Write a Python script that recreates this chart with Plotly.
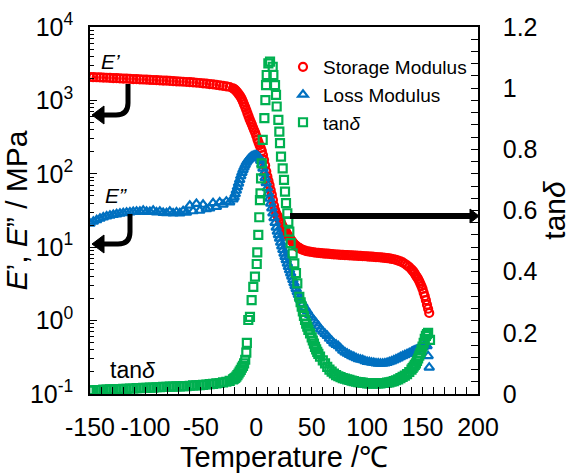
import plotly.graph_objects as go

# ---------------- data ----------------
T_MOD = [-150, -147, -144, -141, -138, -135, -132, -129, -126, -123, -120, -117, -114, -111, -108,
         -105, -102, -99, -96, -93, -90, -87, -84, -81, -78, -75, -72, -69, -66, -63, -60, -57,
         -54, -51, -48, -45, -42, -39, -36, -33, -30, -27, -24, -21,
         -20, -19, -18, -17, -16, -15, -14, -13, -12, -11, -10, -9, -8, -7, -6, -5, -4, -3, -2, -1,
         0, 1, 2, 3, 4, 5, 6, 7, 8, 9, 10, 11, 12, 13, 14, 15, 16, 17, 18, 19, 20, 21, 22, 23, 24,
         25, 26, 27, 28, 29, 30, 31, 32, 33, 34, 35, 36, 37, 38, 39, 40,
         42, 44, 46, 48, 50, 52, 54, 56, 58, 60, 62, 64, 66, 68, 70, 72, 74, 76, 78, 80, 82, 84, 86,
         88, 90, 92, 94, 96, 98, 100, 102, 104, 106, 108, 110, 112, 114, 116, 118, 120, 122, 124,
         126, 128, 130, 132, 134, 136, 138, 140,
         141, 142, 143, 144, 145, 146, 147, 148, 149, 150, 151, 152, 153, 154, 155, 156]

STORAGE = [2084, 2075, 2066, 2055, 2045, 2035, 2025, 2015, 2005, 1995, 1985, 1975, 1965, 1955, 1945,
           1935, 1925, 1915, 1905, 1895, 1885, 1875, 1865, 1855, 1845, 1830, 1820, 1808, 1795, 1782,
           1770, 1755, 1740, 1727, 1710, 1690, 1670, 1650, 1630, 1605, 1580, 1550, 1523, 1460,
           1430, 1390, 1340, 1290, 1230, 1170, 1110, 1040, 960, 880, 810, 740, 670, 610, 555, 510,
           470, 430, 395, 365,
           330, 295, 268, 245, 225, 205, 180, 155, 130, 108, 92, 80, 70, 60, 52, 44, 37, 32, 29, 27,
           25.5, 24, 22, 20.5, 19, 18, 17, 16, 15, 14.2, 13.5, 12.8, 12.2, 11.6, 11.1, 10.7, 10.4,
           10.1, 9.9, 9.7, 9.5,
           9.2, 9.0, 8.8, 8.7, 8.6, 8.5, 8.4, 8.35, 8.3, 8.25, 8.2, 8.15, 8.1, 8.05, 8.0, 7.95, 7.9,
           7.88, 7.85, 7.82, 7.8, 7.76, 7.72, 7.7, 7.66, 7.63, 7.6, 7.57, 7.53, 7.5, 7.46, 7.42, 7.38,
           7.34, 7.3, 7.26, 7.22, 7.17, 7.12, 7.05, 6.95, 6.85, 6.7, 6.55, 6.4, 6.2, 5.95, 5.65, 5.35,
           5.0,
           4.8, 4.6, 4.35, 4.1, 3.9, 3.7, 3.45, 3.2, 2.95, 2.7, 2.4, 2.15, 1.9, 1.65, 1.45, 1.27]

LOSS = [21, 22.3, 23.5, 24.5, 25.5, 26.3, 27, 27.7, 28.2, 28.7, 29.2, 29.6, 30, 30.3, 30.5,
        30.6, 31.5, 30.5, 30.3, 31.5, 29.8, 30.5, 29.4, 29.2, 30.5, 29.0, 30, 29.1, 31, 29.6,
        37, 31, 39, 31.5, 38, 33, 34, 40, 35.5, 41, 38, 42, 41, 45,
        48, 53, 59, 66, 74, 83, 93, 103, 113, 123, 133, 142, 150, 157, 163, 168, 172, 175, 177, 178,
        178, 175, 170, 162, 150, 134, 118, 102, 88, 75, 64, 54, 46, 39.5, 34, 29, 25, 21.5, 18.5,
        16.4, 14.7, 13.1, 11.6, 10.3, 9.2, 8.2, 7.4, 6.7, 6.0, 5.4, 4.9, 4.4, 4.0, 3.6, 3.25, 2.95,
        2.7, 2.45, 2.25, 2.05, 1.9,
        1.7, 1.5, 1.35, 1.2, 1.1, 1.0, 0.92, 0.84, 0.76, 0.71, 0.66, 0.62, 0.57, 0.53, 0.49, 0.47,
        0.45, 0.42, 0.39, 0.37, 0.355, 0.343, 0.33, 0.32, 0.31, 0.30, 0.295, 0.29, 0.282, 0.275,
        0.272, 0.269, 0.266, 0.263, 0.261, 0.26, 0.26, 0.262, 0.266, 0.272, 0.28, 0.288, 0.297,
        0.307, 0.318, 0.33, 0.34, 0.35, 0.36, 0.372,
        0.378, 0.385, 0.39, 0.397, 0.403, 0.41, 0.417, 0.424, 0.43, 0.437, 0.445, 0.453, 0.46,
        0.45, 0.33, 0.23]

T_TAN = [-150, -147, -144, -141, -138, -135, -132, -129, -126, -123, -120, -117, -114, -111, -108,
         -105, -102, -99, -96, -93, -90, -87, -84, -81, -78, -75, -72, -69, -66, -63, -60, -57,
         -54, -51, -48, -45, -42, -39, -36, -33, -30, -27, -24, -21,
         -20, -19, -18, -17, -16, -15, -14, -13, -12, -11, -10, -9,
         -8.5, -7.2, -5.7, -4.2, -2.7, -1.2, 0.4, 0.9, 1.8, 2.7, 3.3, 3.8, 4.3, 4.9, 5.8, 7.3, 8.2,
         8.8, 9.4, 10.9, 12.4, 14.8, 15.4, 16.9, 17.8, 18.4, 19.9, 20.8, 21.4, 22.3, 23.8, 25.0,
         25.9, 26.8, 28.0, 28.9, 29.8, 31.0, 32.8, 34.3, 35.8, 37.0, 38.8, 40.0, 41.0, 42.0, 43.0,
         44.0, 45.0, 46.0, 47.0, 48.5, 50.0, 51.0, 52.0, 53.0, 54.0, 55.0, 56.0, 57.5,
         60, 62, 64, 66, 68, 70, 72, 74, 76, 78, 80, 82, 84, 86, 88, 90, 92, 94, 96, 98, 100, 102,
         104, 106, 108, 110, 112, 114, 116, 118, 120, 122, 124, 126, 128, 130, 132, 134, 136, 138,
         140, 141, 142, 143, 144, 145, 146, 147, 148, 149, 150, 151, 152, 153, 154, 155, 156.7]

TAN_DELTA = [0.012, 0.012, 0.013, 0.013, 0.014, 0.014, 0.015, 0.015, 0.016, 0.016, 0.017, 0.017,
             0.018, 0.018, 0.019, 0.019, 0.020, 0.020, 0.021, 0.021, 0.022, 0.022, 0.023, 0.023,
             0.024, 0.024, 0.025, 0.025, 0.026, 0.026, 0.027, 0.028, 0.028, 0.029, 0.030, 0.031,
             0.032, 0.033, 0.035, 0.036, 0.038, 0.040, 0.043, 0.048,
             0.050, 0.053, 0.057, 0.062, 0.067, 0.073, 0.079, 0.086, 0.092, 0.100, 0.112, 0.135,
             0.167, 0.242, 0.252, 0.307, 0.35, 0.384, 0.425, 0.463, 0.52, 0.578, 0.634, 0.656,
             0.705, 0.754, 0.831, 0.902, 0.961, 1.01, 1.043, 1.081, 1.087, 1.07, 1.043, 1.01, 0.978,
             0.94, 0.896, 0.858, 0.82, 0.776, 0.738, 0.70, 0.662, 0.624, 0.591, 0.563, 0.531, 0.493,
             0.46, 0.427, 0.395, 0.362, 0.318, 0.30, 0.286, 0.27, 0.255, 0.242, 0.23, 0.22, 0.21,
             0.198, 0.185, 0.175, 0.165, 0.154, 0.146, 0.138, 0.131, 0.122,
             0.11, 0.10, 0.089, 0.080, 0.073, 0.067, 0.062, 0.058, 0.055, 0.052, 0.050, 0.048, 0.046,
             0.044, 0.042, 0.040, 0.039, 0.038, 0.037, 0.036, 0.035, 0.035, 0.035, 0.035, 0.035,
             0.035, 0.035, 0.036, 0.036, 0.037, 0.038, 0.040, 0.042, 0.045, 0.048, 0.052, 0.056,
             0.060, 0.065, 0.072, 0.080, 0.085, 0.09, 0.095, 0.10, 0.108, 0.116, 0.125, 0.134,
             0.144, 0.155, 0.167, 0.18, 0.19, 0.196, 0.2, 0.177]

X_TICKS = [-150, -100, -50, 0, 50, 100, 150, 200]
X_TICK_TEXT = ["-150", "-100", "-50", "0", "50", "100", "150", "200"]
Y_TICKS = [0.1, 1, 10, 100, 1000, 10000]
Y_TICK_TEXT = ["10<sup>-1</sup>", "10<sup>0</sup>", "10<sup>1</sup>", "10<sup>2</sup>",
               "10<sup>3</sup>", "10<sup>4</sup>"]
Y_MINOR = [m * 10 ** e for e in range(-1, 4) for m in range(2, 10)]
Y2_TICKS = [0, 0.2, 0.4, 0.6, 0.8, 1.0, 1.2]
Y2_TICK_TEXT = ["0", "0.2", "0.4", "0.6", "0.8", "1", "1.2"]

assert len(T_MOD) == len(STORAGE) == len(LOSS), (len(T_MOD), len(STORAGE), len(LOSS))
assert len(T_TAN) == len(TAN_DELTA), (len(T_TAN), len(TAN_DELTA))

RED = "#FF0000"
BLUE = "#0070C0"
GREEN = "#00B050"
FONT = "Liberation Sans, Arial, sans-serif"

W, H = 577, 475
L, R, TOP, B = 90, 478, 27, 394


def px(x):
    return (x - L) / (R - L)


def py(y):
    return (B - y) / (B - TOP)


fig = go.Figure()
fig.add_trace(go.Scatter(x=T_MOD, y=STORAGE, mode="markers", name="Storage Modulus",
                         marker=dict(symbol="circle-open", size=8, color=RED,
                                     line=dict(width=2.2, color=RED))))
fig.add_trace(go.Scatter(x=T_MOD, y=LOSS, mode="markers", name="Loss Modulus",
                         marker=dict(symbol="triangle-up-open", size=8.5, color=BLUE,
                                     line=dict(width=2.2, color=BLUE))))
fig.add_trace(go.Scatter(x=T_TAN, y=TAN_DELTA, mode="markers", name="tan<i>δ</i>", yaxis="y2",
                         marker=dict(symbol="square-open", size=8, color=GREEN,
                                     line=dict(width=2.2, color=GREEN))))

axis_common = dict(showgrid=False, zeroline=False, showline=True, linecolor="black", linewidth=1.5,
                   ticks="inside", ticklen=7, tickwidth=1.2, tickcolor="black", automargin=False,
                   tickangle=0, tickfont=dict(size=25, color="black", family=FONT))

fig.update_layout(
    width=W, height=H,
    margin=dict(l=L, r=W - R, t=TOP, b=H - B, autoexpand=False),
    paper_bgcolor="white", plot_bgcolor="white",
    font=dict(family=FONT, color="black"),
    xaxis=dict(range=[-150, 200], tickmode="array", tickvals=X_TICKS, ticktext=X_TICK_TEXT,
               mirror=True, ticklabelstandoff=10,
               minor=dict(dtick=10, ticks="inside", ticklen=7, tickcolor="black", tickwidth=1.2),
               title=dict(text="Temperature /℃", font=dict(size=29), standoff=6),
               **axis_common),
    yaxis=dict(type="log", range=[-1, 4], tickmode="array", tickvals=Y_TICKS, ticktext=Y_TICK_TEXT,
               ticklabelstandoff=10,
               minor=dict(tickmode="array", tickvals=Y_MINOR, ticks="inside", ticklen=4,
                          tickcolor="black", tickwidth=1),
               title=dict(text="<i>E</i>’, <i>E</i>” / MPa", font=dict(size=30), standoff=2),
               **axis_common),
    yaxis2=dict(overlaying="y", side="right", range=[0, 1.2], tickmode="array", tickvals=Y2_TICKS,
                ticktext=Y2_TICK_TEXT, ticklabelstandoff=18,
                minor=dict(dtick=0.04, ticks="inside", ticklen=7, tickcolor="black", tickwidth=1.2),
                title=dict(text="tan<i>δ</i>", font=dict(size=30), standoff=4),
                **axis_common),
    legend=dict(x=px(283), y=py(48), xanchor="left", yanchor="top", bgcolor="rgba(0,0,0,0)",
                font=dict(size=19, color="black"), tracegroupgap=0, itemwidth=30),
    showlegend=True,
)

shapes = []
# E' arrow
shapes.append(dict(type="path", xref="paper", yref="paper",
                   path=f"M {px(128)},{py(84)} L {px(128)},{py(103)} Q {px(128)},{py(115)} {px(116)},{py(115)} L {px(101)},{py(115)}",
                   line=dict(color="black", width=5)))
shapes.append(dict(type="path", xref="paper", yref="paper",
                   path=f"M {px(92)},{py(115)} L {px(104)},{py(106)} L {px(104)},{py(124)} Z",
                   fillcolor="black", line=dict(color="black", width=1)))
# E'' arrow
shapes.append(dict(type="path", xref="paper", yref="paper",
                   path=f"M {px(130)},{py(214)} L {px(130)},{py(232)} Q {px(130)},{py(244)} {px(118)},{py(244)} L {px(101)},{py(244)}",
                   line=dict(color="black", width=5)))
shapes.append(dict(type="path", xref="paper", yref="paper",
                   path=f"M {px(92)},{py(244)} L {px(104)},{py(235)} L {px(104)},{py(253)} Z",
                   fillcolor="black", line=dict(color="black", width=1)))
# tan delta arrow to the right axis
shapes.append(dict(type="line", xref="paper", yref="paper",
                   x0=px(290), y0=py(216), x1=px(472), y1=py(216),
                   line=dict(color="black", width=6)))
shapes.append(dict(type="path", xref="paper", yref="paper",
                   path=f"M {px(479)},{py(216)} L {px(470)},{py(209)} L {px(470)},{py(223)} Z",
                   fillcolor="black", line=dict(color="black", width=1)))
fig.update_layout(shapes=shapes)

ann_font = dict(size=21, color="black", family=FONT)
fig.add_annotation(x=px(110), y=py(62), xref="paper", yref="paper", text="<i>E’</i>",
                   xanchor="center", yanchor="middle", showarrow=False, font=ann_font)
fig.add_annotation(x=px(116), y=py(195), xref="paper", yref="paper", text="<i>E”</i>",
                   xanchor="center", yanchor="middle", showarrow=False, font=ann_font)
fig.add_annotation(x=px(132), y=py(370), xref="paper", yref="paper", text="tan<i>δ</i>",
                   xanchor="center", yanchor="middle", showarrow=False,
                   font=dict(size=23, color="black", family=FONT))

fig.write_html("out.html")
